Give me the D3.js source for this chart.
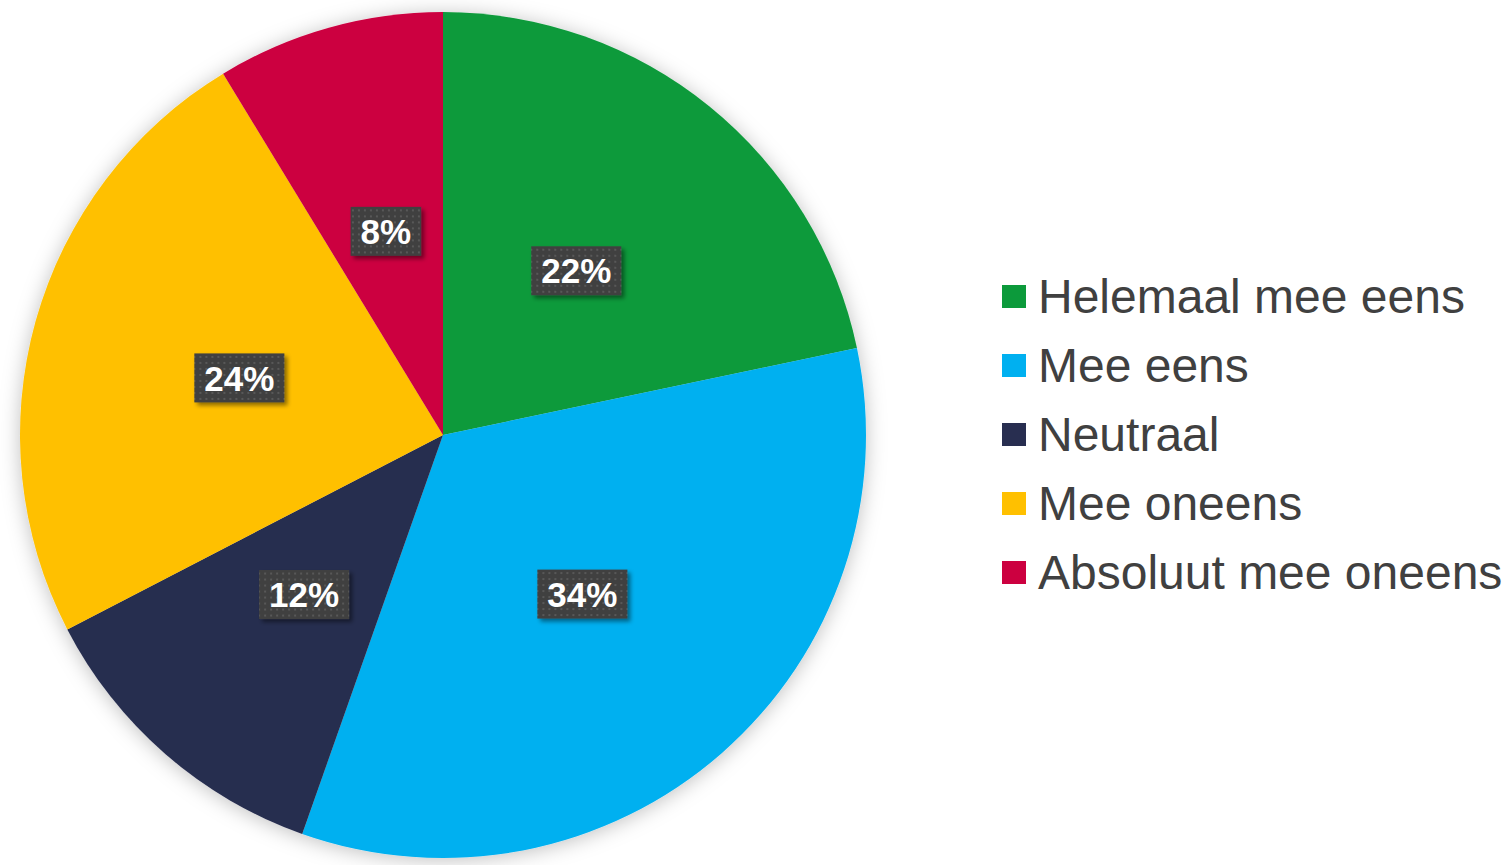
<!DOCTYPE html>
<html><head><meta charset="utf-8">
<script src="https://cdn.jsdelivr.net/npm/d3@7"></script>
<style>html,body{margin:0;padding:0;background:#fff;}svg{display:block;}</style>
</head><body>
<svg id="chart" width="1512" height="865"></svg>
<script>
const categories = ["Helemaal mee eens", "Mee eens", "Neutraal", "Mee oneens", "Absoluut mee oneens"];
const values = [21.7, 33.7, 12.0, 23.9, 8.7];
const labels = ["22%", "34%", "12%", "24%", "8%"];
const colors = ["#0c9a3b", "#00b0f0", "#282e50", "#ffc000", "#cc0040"];

const svg = d3.select("#chart");
const defs = svg.append("defs");
const sh = defs.append("filter").attr("id","pieShadow").attr("x","-20%").attr("y","-20%").attr("width","140%").attr("height","140%");
sh.append("feDropShadow").attr("dx",0).attr("dy",2).attr("stdDeviation",10).attr("flood-color","#000").attr("flood-opacity",0.25);
const ls = defs.append("filter").attr("id","lblShadow").attr("x","-30%").attr("y","-30%").attr("width","160%").attr("height","160%");
ls.append("feDropShadow").attr("dx",3).attr("dy",3).attr("stdDeviation",2).attr("flood-color","#000").attr("flood-opacity",0.45);
const pat = defs.append("pattern").attr("id","dots").attr("patternUnits","userSpaceOnUse").attr("width",6).attr("height",6);
pat.append("rect").attr("width",6).attr("height",6).attr("fill","#404040");
pat.append("rect").attr("x",2).attr("y",2).attr("width",2).attr("height",2).attr("fill","#585858");

const cx = 443, cy = 435, r = 423;
const pie = d3.pie().sort(null).value(d => d)(values);
const arc = d3.arc().innerRadius(0).outerRadius(r);
const g = svg.append("g").attr("transform", `translate(${cx},${cy})`);
g.append("g").attr("filter","url(#pieShadow)")
  .selectAll("path").data(pie).join("path")
  .attr("d", arc).attr("fill", (d,i) => colors[i]);

const lblArc = d3.arc().innerRadius(0).outerRadius(r);
const lg = g.selectAll("g.lbl").data(pie).join("g").attr("class","lbl")
  .attr("transform", d => `translate(${lblArc.centroid(d)})`);
lg.each(function(d,i){
  const s = d3.select(this);
  const t = s.append("text").text(labels[i])
    .attr("text-anchor","middle").attr("dy","0.36em")
    .attr("font-family","'Liberation Sans', Arial, sans-serif")
    .attr("font-weight","bold").attr("font-size",35).attr("fill","#fff");
  const w = t.node().getComputedTextLength();
  s.insert("rect","text").attr("x",-w/2-10).attr("y",-24.5).attr("width",w+20).attr("height",49)
    .attr("fill","url(#dots)").attr("filter","url(#lblShadow)");
});

const legend = svg.append("g").attr("transform","translate(1002,296)");
const items = legend.selectAll("g").data(categories).join("g")
  .attr("transform",(d,i)=>`translate(0,${i*69})`);
items.append("rect").attr("x",0).attr("y",-11).attr("width",24).attr("height",23).attr("fill",(d,i)=>colors[i]);
items.append("text").attr("x",36).attr("y",0).attr("dy","0.36em")
  .attr("font-family","'Liberation Sans', Arial, sans-serif").attr("font-size",48).attr("fill","#404040")
  .text(d=>d);
</script>
</body></html>
